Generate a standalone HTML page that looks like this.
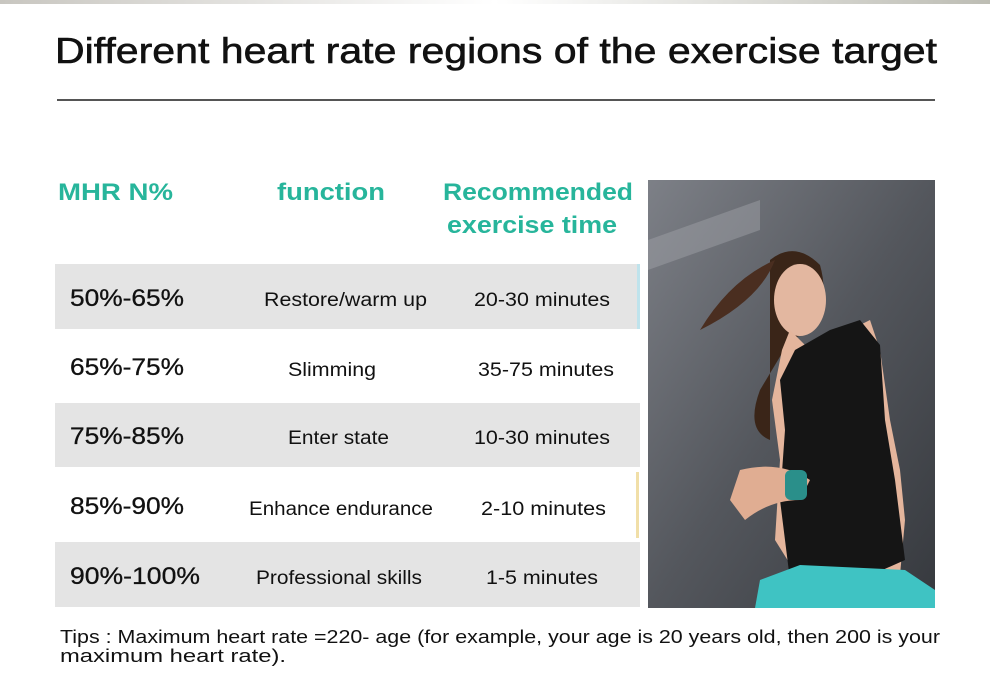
<!DOCTYPE html>
<html><head><meta charset="utf-8"><style>
html,body{margin:0;padding:0;background:#fff;}
svg{display:block;font-family:"Liberation Sans",sans-serif;}
</style></head><body>
<svg width="990" height="696" viewBox="0 0 990 696" xmlns="http://www.w3.org/2000/svg">
<defs>
<linearGradient id="wall" x1="0" y1="0" x2="1" y2="1">
<stop offset="0" stop-color="#7d8087"/><stop offset="0.5" stop-color="#54575d"/><stop offset="1" stop-color="#36393e"/>
</linearGradient>
<linearGradient id="top" x1="0" y1="0" x2="1" y2="0">
<stop offset="0" stop-color="#c8c6c0"/><stop offset="0.5" stop-color="#fff"/><stop offset="1" stop-color="#bdbdb4"/>
</linearGradient>
</defs>
<rect width="990" height="696" fill="#fff"/>
<rect x="0" y="0" width="990" height="4" fill="url(#top)"/>
<text x="55" y="63" font-size="36" fill="#111" stroke="#111" stroke-width="0.6" textLength="882" lengthAdjust="spacingAndGlyphs">Different heart rate regions of the exercise target</text>
<rect x="57" y="99" width="878" height="2" fill="#555"/>
<g fill="#27b59b" font-weight="bold" font-size="24">
<text x="58" y="200" textLength="115" lengthAdjust="spacingAndGlyphs">MHR N%</text>
<text x="277" y="200" textLength="108" lengthAdjust="spacingAndGlyphs">function</text>
<text x="443" y="200" textLength="190" lengthAdjust="spacingAndGlyphs">Recommended</text>
<text x="447" y="233" textLength="170" lengthAdjust="spacingAndGlyphs">exercise time</text>
</g>
<rect x="55" y="264" width="585" height="65" fill="#e4e4e4"/>
<rect x="637" y="264" width="3" height="65" fill="#bfe3ec"/>
<rect x="55" y="403" width="585" height="64" fill="#e4e4e4"/>
<rect x="636" y="472" width="3" height="66" fill="#f1dfa8"/>
<rect x="55" y="542" width="585" height="65" fill="#e4e4e4"/>
<g fill="#111">
<g font-size="24" stroke="#111" stroke-width="0.3">
<text x="70" y="306" textLength="114" lengthAdjust="spacingAndGlyphs">50%-65%</text>
<text x="70" y="375" textLength="114" lengthAdjust="spacingAndGlyphs">65%-75%</text>
<text x="70" y="444" textLength="114" lengthAdjust="spacingAndGlyphs">75%-85%</text>
<text x="70" y="514" textLength="114" lengthAdjust="spacingAndGlyphs">85%-90%</text>
<text x="70" y="584" textLength="130" lengthAdjust="spacingAndGlyphs">90%-100%</text>
</g>
<g font-size="19">
<text x="264" y="306" textLength="163" lengthAdjust="spacingAndGlyphs">Restore/warm up</text>
<text x="288" y="376" textLength="88" lengthAdjust="spacingAndGlyphs">Slimming</text>
<text x="288" y="444" textLength="101" lengthAdjust="spacingAndGlyphs">Enter state</text>
<text x="249" y="515" textLength="184" lengthAdjust="spacingAndGlyphs">Enhance endurance</text>
<text x="256" y="584" textLength="166" lengthAdjust="spacingAndGlyphs">Professional skills</text>
<text x="474" y="306" textLength="136" lengthAdjust="spacingAndGlyphs">20-30 minutes</text>
<text x="478" y="376" textLength="136" lengthAdjust="spacingAndGlyphs">35-75 minutes</text>
<text x="474" y="444" textLength="136" lengthAdjust="spacingAndGlyphs">10-30 minutes</text>
<text x="481" y="515" textLength="125" lengthAdjust="spacingAndGlyphs">2-10 minutes</text>
<text x="486" y="584" textLength="112" lengthAdjust="spacingAndGlyphs">1-5 minutes</text>
</g>
<g font-size="18">
<text x="60" y="643" textLength="880" lengthAdjust="spacingAndGlyphs">Tips : Maximum heart rate =220- age (for example, your age is 20 years old, then 200 is your</text>
<text x="60" y="662" textLength="226" lengthAdjust="spacingAndGlyphs">maximum heart rate).</text>
</g>
</g>
<!-- photo -->
<rect x="648" y="180" width="287" height="428" fill="url(#wall)"/>
<path d="M648 240 L760 200 L760 230 L648 270Z" fill="#9da0a6" opacity="0.5"/>
<path d="M770 260 Q795 240 820 265 Q830 300 812 330 L790 340 L760 390 Q745 430 770 440 Z" fill="#3a2518"/>
<ellipse cx="800" cy="300" rx="26" ry="36" fill="#e3b7a0"/>
<path d="M700 330 Q730 280 775 260 Q760 300 700 330Z" fill="#4a2e20"/>
<path d="M790 330 L805 345 L850 330 L870 320 L880 350 L890 420 L900 470 L905 520 L900 575 L800 580 L775 540 L780 460 L772 400 L782 350Z" fill="#e4b59c"/>
<path d="M795 350 L830 330 L860 320 L880 345 L885 420 L895 480 L905 560 L860 580 L790 580 L780 500 L785 430 L780 380Z" fill="#151515"/>
<path d="M740 470 Q780 460 810 480 L800 500 Q770 500 745 520 L730 500Z" fill="#e0ad92"/>
<rect x="785" y="470" width="22" height="30" rx="6" fill="#2a8f8a"/>
<path d="M760 580 L800 565 L905 570 L935 590 L935 608 L755 608Z" fill="#3fc3c3"/>
</svg>
</body></html>
